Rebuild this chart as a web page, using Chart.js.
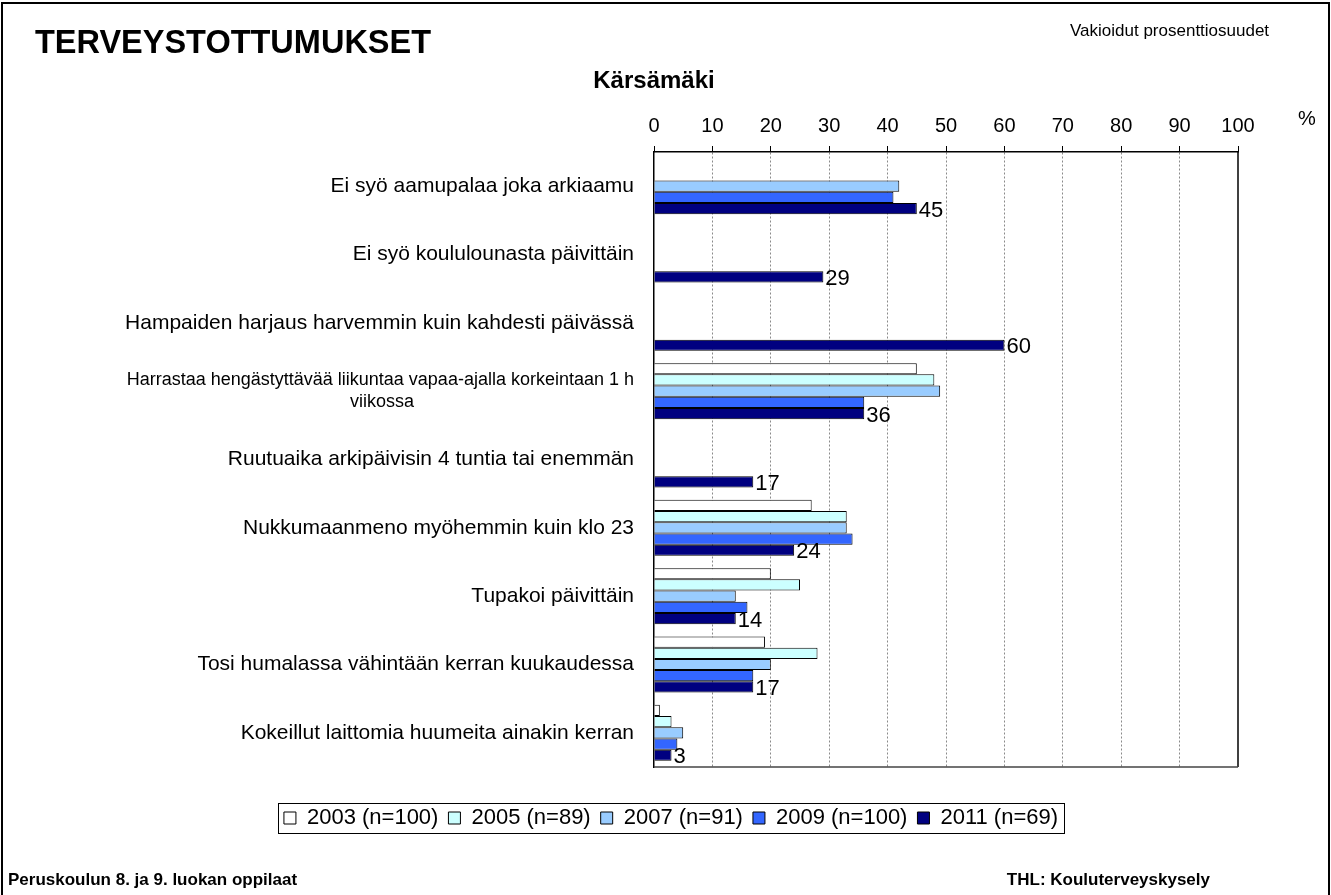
<!DOCTYPE html>
<html>
<head>
<meta charset="utf-8">
<script src="https://cdn.jsdelivr.net/npm/chart.js@4"></script>
<style>
body { margin:0; background:#fff; font-family:"Liberation Sans", Arial, sans-serif; }
#page { position:relative; width:1331px; height:895px; overflow:hidden; background:#fff; }
#frame { position:absolute; left:1px; top:2px; width:1325px; height:900px; border:2px solid #000; }
#chart { position:absolute; left:0; top:0; }
.txt { position:absolute; white-space:nowrap; color:#000; z-index:2; }
</style>
</head>
<body>
<div id="page">
  <div id="frame"></div>
  <canvas id="chart" width="1331" height="895"></canvas>
  <div class="txt" style="left:35px; top:25px; line-height:34px; font-size:32.5px; font-weight:bold;">TERVEYSTOTTUMUKSET</div>
  <div class="txt" style="left:1070px; top:21px; line-height:20px; font-size:17px;">Vakioidut prosenttiosuudet</div>
  <div class="txt" style="left:554px; width:200px; text-align:center; top:66px; line-height:28px; font-size:24px; font-weight:bold;">Kärsämäki</div>
  <div class="txt" style="left:1298px; top:107px; line-height:22px; font-size:20px;">%</div>
  <div class="txt" style="left:8px; top:870px; line-height:20px; font-size:17px; font-weight:bold;">Peruskoulun 8. ja 9. luokan oppilaat</div>
  <div class="txt" style="right:121px; top:870px; line-height:20px; font-size:17px; font-weight:bold;">THL: Kouluterveyskysely</div>
</div>
<script>
var FONT = '"Liberation Sans", Arial, sans-serif';

var categories = [
    "Ei syö aamupalaa joka arkiaamu",
    "Ei syö koululounasta päivittäin",
    "Hampaiden harjaus harvemmin kuin kahdesti päivässä",
    ["Harrastaa hengästyttävää liikuntaa vapaa-ajalla korkeintaan 1 h", "viikossa"],
    "Ruutuaika arkipäivisin 4 tuntia tai enemmän",
    "Nukkumaanmeno myöhemmin kuin klo 23",
    "Tupakoi päivittäin",
    "Tosi humalassa vähintään kerran kuukaudessa",
    "Kokeillut laittomia huumeita ainakin kerran"
];

var years = ["2003 (n=100)", "2005 (n=89)", "2007 (n=91)", "2009 (n=100)", "2011 (n=69)"];

var v2003 = [null, null, null, 45, null, 27, 20, 19, 1];
var v2005 = [null, null, null, 48, null, 33, 25, 28, 3];
var v2007 = [42, null, null, 49, null, 33, 14, 20, 5];
var v2009 = [41, null, null, 36, null, 34, 16, 17, 4];
var v2011 = [45, 29, 60, 36, 17, 24, 14, 17, 3];

var colors = ["#ffffff", "#ccffff", "#99ccff", "#3366ff", "#000080"];

var LABEL_SIZE = 21;
var WRAP_SIZE = 18;

// centre the wrapped second line under the first one (labels are right aligned)
function padLine(first, second, font) {
    var c = document.createElement("canvas").getContext("2d");
    c.font = font;
    var shift = (c.measureText(first).width - c.measureText(second).width) / 2;
    var n = Math.max(0, Math.round(shift / c.measureText("\u00a0").width));
    return second + "\u00a0".repeat(n);
}

var labels = categories.map(function(c) {
    if (Array.isArray(c)) return [c[0], padLine(c[0], c[1], WRAP_SIZE + "px " + FONT)];
    return c;
});

var series = [v2003, v2005, v2007, v2009, v2011];
var datasets = series.map(function(s, i) {
    return {
        label: years[i],
        data: s,
        backgroundColor: colors[i],
        borderColor: "#000",
        borderWidth: 1,
        categoryPercentage: 0.82,
        barPercentage: 1.0
    };
});

var valueLabels = {
    id: "valueLabels",
    afterDatasetsDraw: function(chart) {
        var ctx = chart.ctx;
        var last = chart.data.datasets.length - 1;
        var meta = chart.getDatasetMeta(last);
        ctx.save();
        ctx.font = "22px " + FONT;
        ctx.fillStyle = "#000";
        ctx.textAlign = "left";
        ctx.textBaseline = "middle";
        meta.data.forEach(function(bar, i) {
            var v = chart.data.datasets[last].data[i];
            if (v == null) return;
            ctx.fillText(v, bar.x + 2, bar.y + 2);
        });
        ctx.restore();
    }
};

var plotFrame = {
    id: "plotFrame",
    afterDraw: function(chart) {
        var a = chart.chartArea, ctx = chart.ctx;
        ctx.save();
        ctx.lineWidth = 1.5;
        ctx.strokeStyle = "#000";
        ctx.beginPath();
        ctx.moveTo(a.right, a.top);
        ctx.lineTo(a.right, a.bottom);
        ctx.stroke();
        ctx.strokeStyle = "#444";
        ctx.beginPath();
        ctx.moveTo(a.left, a.bottom);
        ctx.lineTo(a.right, a.bottom);
        ctx.stroke();
        ctx.restore();
    }
};

var legendBox = {
    id: "legendBox",
    afterDraw: function(chart) {
        var boxes = chart.legend.legendHitBoxes;
        if (!boxes || !boxes.length) return;
        var l = Infinity, r = -Infinity, t = Infinity, b = -Infinity;
        boxes.forEach(function(h) {
            l = Math.min(l, h.left); r = Math.max(r, h.left + h.width);
            t = Math.min(t, h.top); b = Math.max(b, h.top + h.height);
        });
        var ctx = chart.ctx;
        ctx.save();
        ctx.strokeStyle = "#000";
        ctx.lineWidth = 1;
        ctx.strokeRect(Math.round(l - 6) + 0.5, Math.round(t - 4) + 0.5, Math.round(r - l + 12), Math.round(b - t + 8));
        ctx.restore();
    }
};

Chart.defaults.font.family = FONT;
Chart.defaults.color = "#000";

var chart = new Chart(document.getElementById("chart"), {
    type: "bar",
    data: { labels: labels, datasets: datasets },
    options: {
        indexAxis: "y",
        responsive: false,
        animation: false,
        devicePixelRatio: 1,
        layout: { padding: { left: 104, right: 93, top: 0, bottom: 56 } },
        scales: {
            x: {
                position: "top",
                min: 0,
                max: 100,
                ticks: { stepSize: 10, font: { size: 20 }, color: "#000", padding: 8 },
                grid: {
                    color: function(c) { return (c.index === 0 || c.index === 10) ? "rgba(0,0,0,0)" : "#8a8a8a"; },
                    lineWidth: 1,
                    tickColor: "#000",
                    tickLength: 6,
                    tickBorderDash: []
                },
                border: { color: "#000", width: 1.5, dash: [2, 2] },
                afterFit: function(s) { s.height = 152; }
            },
            x2: {
                type: "linear",
                position: "bottom",
                min: 0,
                max: 100,
                ticks: { display: false },
                grid: { display: false, drawTicks: false },
                border: { display: false },
                afterFit: function(s) { s.height = 30; }
            },
            y: {
                grid: { display: false, drawTicks: false },
                border: { color: "#000", width: 1.5 },
                ticks: {
                    font: function(c) {
                        var wrapped = Array.isArray(categories[c.index]);
                        return { size: wrapped ? WRAP_SIZE : LABEL_SIZE, lineHeight: wrapped ? 1.2 : 1.1 };
                    },
                    color: "#000",
                    padding: 20,
                    autoSkip: false
                },
                afterFit: function(s) { s.width = 550; }
            }
        },
        plugins: {
            legend: {
                position: "bottom",
                labels: {
                    boxWidth: 12,
                    boxHeight: 12,
                    padding: 10,
                    color: "#000",
                    font: { size: 22 }
                }
            },
            tooltip: { enabled: false }
        }
    },
    plugins: [valueLabels, plotFrame, legendBox]
});
</script>
</body>
</html>
